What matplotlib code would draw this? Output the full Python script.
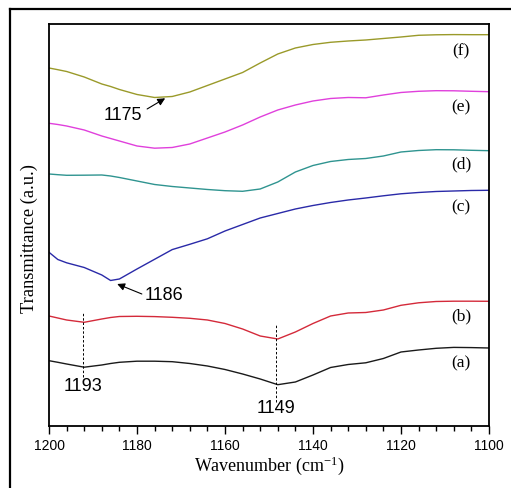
import numpy as np
import matplotlib.pyplot as plt
from matplotlib.lines import Line2D

plt.rcParams['mathtext.default'] = 'regular'

# wavenumber grid (cm-1)
wn = [1200, 1198, 1196, 1192, 1188, 1186, 1184, 1180, 1176, 1172, 1168, 1164, 1160,
      1156, 1152, 1148, 1144, 1140, 1136, 1132, 1128, 1124, 1120, 1116, 1112, 1108,
      1104, 1100]

# offset transmittance (a.u.)
spec_a = [65.3, 63.7, 62, 58.8, 61, 62.5, 63.7, 64.8, 64.8, 64.3, 62.5, 60, 56.5, 52,
          47, 41.3, 44, 51, 58.5, 61.5, 63.2, 67.5, 74, 76, 77.7, 78.6, 78.4, 78]
spec_b = [110, 108, 106, 103.7, 107, 108.5, 109.5, 109.7, 109.4, 108.7, 107.7, 106,
          102.5, 97, 90, 87, 94, 102.5, 110, 113, 113.5, 116, 120.7, 123.2, 124.5,
          124.8, 124.8, 124.7]
spec_c = [173.7, 166.5, 163.2, 158.5, 151, 145.5, 147, 157, 166.7, 176.4, 181.7, 187.2,
          195, 201.5, 208, 212.5, 217, 220.5, 223.5, 226, 228, 230.2, 232.2, 233.5,
          234.5, 235, 235.5, 235.7]
spec_d = [252, 251.3, 250.7, 250.8, 251, 250, 248.5, 245, 241.5, 239.5, 238, 236.5,
          235.3, 234.7, 237, 244, 254, 260.5, 264.5, 266.5, 267.5, 270, 274, 275.5,
          276.3, 276.2, 275.7, 275.3]
spec_e = [302.7, 301.5, 300, 296, 290, 287.5, 285, 280, 277.8, 278.5, 282, 288, 294,
          301, 309, 316, 321, 325, 327.5, 328.5, 328.2, 331, 333.5, 334.7, 335.3,
          335.2, 334.7, 334.3]
spec_f = [358, 356.3, 354.5, 349, 342, 339.5, 336.5, 331.5, 328.5, 329.5, 334, 340.5,
          347, 353.5, 363, 372, 378, 381.5, 383.7, 385, 386, 387.5, 389, 390.7, 391.2,
          391.4, 391.3, 391.3]

labels = ['(a)', '(b)', '(c)', '(d)', '(e)', '(f)']
label_y = [63.7, 111, 219.7, 263, 319.7, 375.3]
colors = ['#1a1a1a', '#d42a3a', '#2a2aa8', '#2f9490', '#e040dc', '#9a9a2a']

fig = plt.figure(figsize=(5.11, 4.89), dpi=100)
ax = fig.add_axes([0.0959, 0.1268, 0.861, 0.8221])

for spec, col in zip([spec_a, spec_b, spec_c, spec_d, spec_e, spec_f], colors):
    ax.plot(wn, spec, color=col, lw=1.0, solid_joinstyle='round')

for lab, yy in zip(labels, label_y):
    ax.text(1106.3, yy, lab, family='Liberation Serif', fontsize=12.5,
            ha='center', va='center')

# peak markers
ax.plot([1192.3, 1192.3], [49, 113], color='black', ls=(0, (2.5, 2)), lw=0.7)
ax.plot([1148.3, 1148.3], [24, 101], color='black', ls=(0, (2.5, 2)), lw=0.7)
ax.text(1192.3, 40, '1193', family='Liberation Sans', fontsize=13, ha='center', va='center')
ax.text(1148.3, 18.5, '1149', family='Liberation Sans', fontsize=13, ha='center', va='center')

arw = dict(arrowstyle='-|>', color='black', lw=0.8, mutation_scale=11, shrinkA=0, shrinkB=0)
ax.annotate('', xy=(1173.6, 327.7), xytext=(1177.7, 317), arrowprops=arw)
ax.text(1183.3, 311, '1175', family='Liberation Sans', fontsize=13, ha='center', va='center')
ax.annotate('', xy=(1184.5, 142), xytext=(1178.9, 132), arrowprops=arw)
ax.text(1173.9, 131, '1186', family='Liberation Sans', fontsize=13, ha='center', va='center')

ax.set_xlim(1200, 1100)
ax.set_ylim(0, 402)
ax.set_xticks(np.arange(1200, 1099, -20))
ax.set_xticks(np.arange(1200, 1099, -4), minor=True)
ax.set_yticks([])
ax.tick_params(axis='x', which='major', direction='out', length=6, width=1, labelsize=10, pad=3)
ax.tick_params(axis='x', which='minor', direction='out', length=3.5, width=1)
for lab in ax.get_xticklabels():
    lab.set_family('Liberation Sans')
for sp in ax.spines.values():
    sp.set_linewidth(1.3)

ax.set_xlabel('Wavenumber (cm$^{-1}$)', family='Liberation Serif', fontsize=13, labelpad=1)
ax.set_ylabel('Transmittance (a.u.)', family='Liberation Serif', fontsize=13.3)
ax.yaxis.set_label_coords(-0.025, 0.47)

# outer frame (cropped at right and bottom)
fig.add_artist(Line2D([9.5 / 511, 9.5 / 511], [0, 1 - 9.5 / 489], color='black', lw=1.6))
fig.add_artist(Line2D([9.5 / 511, 1], [1 - 9.5 / 489, 1 - 9.5 / 489], color='black', lw=1.6))

fig.savefig('out.png', dpi=100)
